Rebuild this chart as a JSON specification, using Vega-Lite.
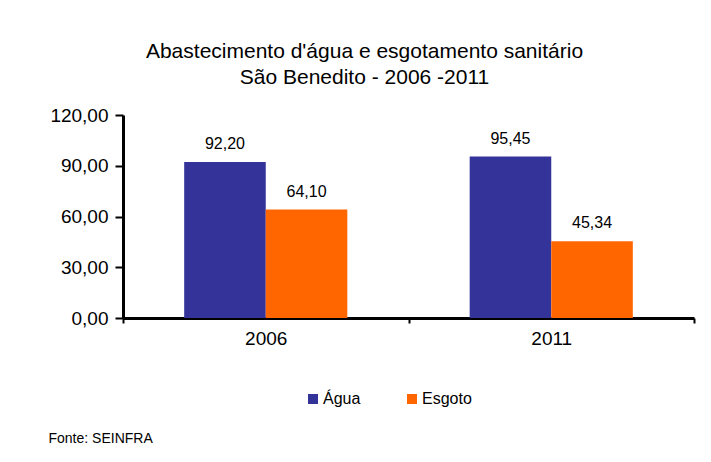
{
  "$schema": "https://vega.github.io/schema/vega-lite/v6.json",
  "autosize": "none",
  "width": 571,
  "height": 203,
  "padding": {"left": 123, "top": 115, "right": 17, "bottom": 144},
  "background": "white",
  "config": {
    "font": "Liberation Sans",
    "view": {"stroke": null},
    "locale": {"number": {"decimal": ",", "thousands": ".", "grouping": [3], "currency": ["R$", ""]}}
  },
  "title": {
    "text": ["Abastecimento d'água e esgotamento sanitário", "São Benedito - 2006 -2011"],
    "fontSize": 21,
    "fontWeight": "normal",
    "color": "black",
    "lineHeight": 26,
    "anchor": "middle",
    "frame": "group",
    "dx": -44,
    "offset": 18
  },
  "data": {
    "values": [
      {"ano": "2006", "serie": "Água", "valor": 92.20},
      {"ano": "2006", "serie": "Esgoto", "valor": 64.10},
      {"ano": "2011", "serie": "Água", "valor": 95.45},
      {"ano": "2011", "serie": "Esgoto", "valor": 45.34}
    ]
  },
  "encoding": {
    "x": {
      "field": "ano", "type": "nominal",
      "scale": {"paddingInner": 0, "paddingOuter": 0},
      "axis": {
        "title": "Fonte: SEINFRA",
        "titleFontSize": 14, "titleFontWeight": "normal", "titleColor": "black",
        "titleAnchor": "start", "titleAlign": "left", "titleBaseline": "alphabetic",
        "titleX": -75, "titleY": 124,
        "labelAngle": 0, "labelFontSize": 19, "labelColor": "black", "labelPadding": 6,
        "tickBand": "extent", "tickSize": 5, "tickWidth": 2, "tickColor": "black",
        "domainColor": "black", "domainWidth": 3
      }
    },
    "xOffset": {"field": "serie", "type": "nominal", "sort": ["Água", "Esgoto"], "scale": {"paddingInner": 0, "paddingOuter": 0.75}},
    "y": {
      "field": "valor", "type": "quantitative",
      "scale": {"domain": [0, 120]},
      "axis": {
        "title": null, "values": [0, 30, 60, 90, 120], "format": ".2f",
        "grid": false, "labelFontSize": 19, "labelColor": "black", "labelPadding": 7,
        "tickSize": 8, "tickWidth": 2, "tickColor": "black",
        "domainColor": "black", "domainWidth": 3
      }
    }
  },
  "layer": [
    {
      "mark": {"type": "bar"},
      "encoding": {
        "color": {
          "field": "serie", "type": "nominal",
          "scale": {"domain": ["Água", "Esgoto"], "range": ["#333399", "#FF6600"]},
          "legend": {
            "title": null, "orient": "none", "direction": "horizontal",
            "legendX": 182, "legendY": 276,
            "symbolType": "square", "symbolSize": 100, "symbolStrokeWidth": 0,
            "labelFontSize": 16, "labelColor": "black", "labelOffset": 2,
            "columnPadding": 43
          }
        }
      }
    },
    {
      "mark": {"type": "text", "fontSize": 16, "dy": -13, "baseline": "alphabetic", "color": "black"},
      "encoding": {
        "text": {"field": "valor", "type": "quantitative", "format": ".2f"}
      }
    }
  ]
}
